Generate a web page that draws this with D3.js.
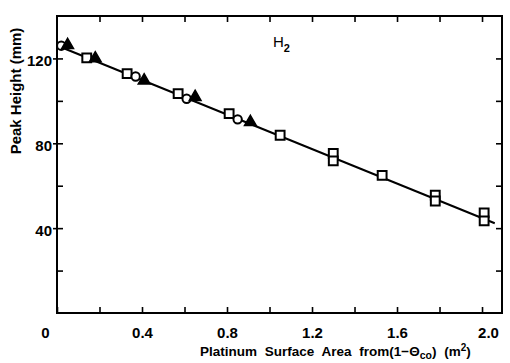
<!DOCTYPE html>
<html>
<head>
<meta charset="utf-8">
<script src="https://cdn.jsdelivr.net/npm/d3@7"></script>
<style>
  html, body { margin: 0; padding: 0; background: #fff; }
  svg { display: block; }
  text { font-family: "Liberation Sans", Arial, sans-serif; font-weight: bold; fill: #000; }
</style>
</head>
<body>
<svg id="chart" width="510" height="363"></svg>
<script>
// Peak height versus platinum surface area (H2)
const squareX = [0.14, 0.33, 0.57, 0.81, 1.05, 1.30, 1.30, 1.53, 1.78, 1.78, 2.01, 2.01];
const squareY = [120.3, 112.8, 103.4, 94.0, 83.8, 75.2, 71.7, 64.9, 55.5, 52.8, 47.2, 43.4];
const circleX = [0.02, 0.37, 0.61, 0.85];
const circleY = [126.0, 111.5, 101.0, 91.3];
const triangleX = [0.05, 0.18, 0.41, 0.65, 0.91];
const triangleY = [126.3, 120.0, 109.6, 101.8, 90.0];
const fitX = [0, 2.06];
const fitY = [126.1, 42.3];

const xTicks = [0, 0.2, 0.4, 0.6, 0.8, 1.0, 1.2, 1.4, 1.6, 1.8, 2.0];
const xTickLabels = ["0", "", "0.4", "", "0.8", "", "1.2", "", "1.6", "", "2.0"];
const yTicks = [20, 40, 60, 80, 100, 120];
const yTickLabels = ["", "40", "", "80", "", "120"];

const svg = d3.select("#chart");
const mLeft = 57, mRight = 502, mTop = 16, mBottom = 313;

const x = d3.scaleLinear().domain([0, 2.094]).range([mLeft, mRight]);
const y = d3.scaleLinear().domain([0, 140]).range([mBottom, mTop]);

// frame
svg.append("rect")
  .attr("x", mLeft).attr("y", mTop)
  .attr("width", mRight - mLeft).attr("height", mBottom - mTop)
  .attr("fill", "none").attr("stroke", "#000").attr("stroke-width", 2);

function styleAxis(g) {
  g.select(".domain").remove();
  g.selectAll(".tick line").attr("stroke", "#000").attr("stroke-width", 1.6);
  g.selectAll(".tick text").style("font-size", "15px");
}

// bottom axis, inward ticks
svg.append("g")
  .attr("transform", `translate(0,${mBottom})`)
  .call(d3.axisBottom(x).tickValues(xTicks).tickSize(-6).tickPadding(14)
    .tickFormat((d, i) => xTickLabels[i]))
  .call(styleAxis)
  .call(g => g.selectAll(".tick text").attr("dx", d => d === 0 ? -12 : (d === 2.0 ? 6 : 0)));

// top axis, inward ticks, no labels
svg.append("g")
  .attr("transform", `translate(0,${mTop})`)
  .call(d3.axisTop(x).tickValues(xTicks.slice(1)).tickSize(-6).tickFormat(""))
  .call(styleAxis);

// left axis
svg.append("g")
  .attr("transform", `translate(${mLeft},0)`)
  .call(d3.axisLeft(y).tickValues(yTicks).tickSize(-6).tickPadding(4)
    .tickFormat((d, i) => yTickLabels[i]))
  .call(styleAxis)
  .call(g => g.selectAll(".tick text").attr("x", -5).attr("dy", "0.5em"))
  .call(g => g.selectAll(".tick").filter((d, i) => yTickLabels[i] !== "")
    .append("line").attr("x1", 0).attr("x2", -4).attr("stroke", "#000").attr("stroke-width", 1.6));

// right axis, inward ticks
svg.append("g")
  .attr("transform", `translate(${mRight},0)`)
  .call(d3.axisRight(y).tickValues(yTicks).tickSize(-6).tickFormat(""))
  .call(styleAxis);

// fitted line
const line = d3.line().x(d => x(d[0])).y(d => y(d[1]));
svg.append("path")
  .datum(fitX.map((v, i) => [v, fitY[i]]))
  .attr("d", line)
  .attr("fill", "none").attr("stroke", "#000").attr("stroke-width", 2);

// markers
const sq = d3.symbol().type(d3.symbolSquare).size(78);
svg.append("g").selectAll("path")
  .data(squareX.map((v, i) => [v, squareY[i]]))
  .join("path")
  .attr("d", sq)
  .attr("transform", d => `translate(${x(d[0])},${y(d[1])})`)
  .attr("fill", "#fff").attr("stroke", "#000").attr("stroke-width", 2);

const ci = d3.symbol().type(d3.symbolCircle).size(55);
svg.append("g").selectAll("path")
  .data(circleX.map((v, i) => [v, circleY[i]]))
  .join("path")
  .attr("d", ci)
  .attr("transform", d => `translate(${x(d[0])},${y(d[1])})`)
  .attr("fill", "#fff").attr("stroke", "#000").attr("stroke-width", 2);

const tr = d3.symbol().type(d3.symbolTriangle).size(60);
svg.append("g").selectAll("path")
  .data(triangleX.map((v, i) => [v, triangleY[i]]))
  .join("path")
  .attr("d", tr)
  .attr("transform", d => `translate(${x(d[0])},${y(d[1])})`)
  .attr("fill", "#000").attr("stroke", "#000").attr("stroke-width", 1.5);

// series label
const h2 = svg.append("text").attr("x", 273).attr("y", 47).style("font-size", "15px").style("font-weight", "normal");
h2.append("tspan").text("H");
h2.append("tspan").attr("dy", 5).style("font-size", "11px").style("font-weight", "bold").text("2");

// axis titles
svg.append("text")
  .attr("transform", `translate(21,91) rotate(-90)`)
  .attr("text-anchor", "middle")
  .style("font-size", "15px")
  .text("Peak Height (mm)");

const xt = svg.append("text")
  .attr("x", 200).attr("y", 356)
  .style("font-size", "13.5px")
  .style("word-spacing", "4px");
xt.append("tspan").text("Platinum Surface Area from(1\u2212\u0398");
xt.append("tspan").attr("dy", 3).style("font-size", "10.5px").text("co");
xt.append("tspan").attr("dy", -3).text(") (m");
xt.append("tspan").attr("dy", -5).style("font-size", "10px").text("2");
xt.append("tspan").attr("dy", 5).text(")");
</script>
</body>
</html>
